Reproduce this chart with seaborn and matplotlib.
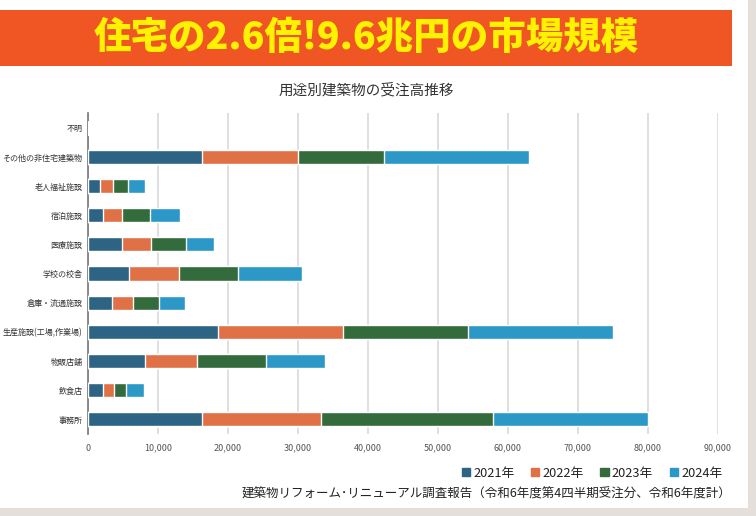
import matplotlib
matplotlib.use("Agg")
import matplotlib.pyplot as plt
import matplotlib.patches as mpatches
import seaborn as sns
import pandas as pd
import numpy as np

categories = ["不明", "その他の非住宅建築物", "老人福祉施設", "宿泊施設", "医療施設",
              "学校の校舎", "倉庫・流通施設", "生産施設(工場,作業場)", "物販店舗", "飲食店", "事務所"]
years = ["2021年", "2022年", "2023年", "2024年"]
v2021 = [0, 16300, 1700, 2100, 4850, 5850, 3400, 18550, 8150, 2150, 16300]
v2022 = [0, 13650, 1850, 2750, 4150, 7150, 3050, 17850, 7450, 1550, 17000]
v2023 = [0, 12350, 2150, 4000, 4950, 8400, 3700, 17950, 9800, 1750, 24600]
v2024 = [0, 20700, 2500, 4250, 4000, 9200, 3650, 20700, 8400, 2500, 22100]
xticks = [0, 10000, 20000, 30000, 40000, 50000, 60000, 70000, 80000, 90000]

colors = ["#2d6383", "#e07146", "#336b3c", "#2b98c7"]

sns.set_theme(style="white")
plt.rcParams['font.family'] = ['Noto Sans CJK JP', 'DejaVu Sans']

fig = plt.figure(figsize=(7.56, 5.16), dpi=100)
fig.patch.set_facecolor("#e5dfdc")
# white panel
fig.add_artist(mpatches.Rectangle((0, 8/516), 748/756, 1 - 8/516, transform=fig.transFigure,
                                  facecolor="white", edgecolor="none", zorder=0))
# banner
fig.add_artist(mpatches.Rectangle((0, 1 - 66/516), 732/756, 56/516, transform=fig.transFigure,
                                  facecolor="#f05524", edgecolor="none", zorder=1))
fig.text(366/756, 1 - 38/516, "住宅の2.6倍!9.6兆円の市場規模", ha="center", va="center",
         color="#fff200", fontsize=27, fontweight="black", zorder=2)
fig.text(366/756, 1 - 90/516, "用途別建築物の受注高推移", ha="center", va="center",
         color="#333333", fontsize=10.5)

ax = fig.add_axes([88/756, 1 - 434/516, 630/756, 321/516])
ax.set_facecolor("none")

series = [v2021, v2022, v2023, v2024]
cum = np.cumsum(np.array(series), axis=0)
df = pd.DataFrame({"category": categories})
for i in range(3, -1, -1):
    df["val"] = cum[i]
    sns.barplot(data=df, y="category", x="val", order=categories, orient="h",
                color=colors[i], width=0.48, ax=ax, saturation=1, zorder=3)

ax.set_xlim(0, 90000)
ax.set_ylim(10.5, -0.5)
ax.set_xticks(xticks)
ax.set_xticklabels([f"{t:,}" for t in xticks], fontsize=6.5, color="#555555")
ax.tick_params(axis="y", labelsize=5.8, colors="#333333", length=0, pad=4)
ax.tick_params(axis="x", length=0, pad=7)
ax.set_xlabel("")
ax.set_ylabel("")
ax.grid(axis="x", color="#d9d9d9", linewidth=1.2, zorder=0)
ax.set_axisbelow(True)
for s in ["top", "right", "bottom"]:
    ax.spines[s].set_visible(False)
ax.spines["left"].set_color("#777777")
ax.spines["left"].set_linewidth(1.2)

handles = [mpatches.Patch(color=c, label=y) for c, y in zip(colors, years)]
fig.legend(handles=handles, loc="center right", bbox_to_anchor=(734/756, 1 - 473/516),
           ncol=4, frameon=False, fontsize=9.2, handlelength=0.65, handleheight=0.65,
           handletextpad=0.25, columnspacing=1.3, labelcolor="#222222")
fig.text(731/756, 1 - 494/516, "建築物リフォーム･リニューアル調査報告（令和6年度第4四半期受注分、令和6年度計）",
         ha="right", va="center", color="#222222", fontsize=9)

fig.savefig("out.png", dpi=100, facecolor=fig.get_facecolor())
